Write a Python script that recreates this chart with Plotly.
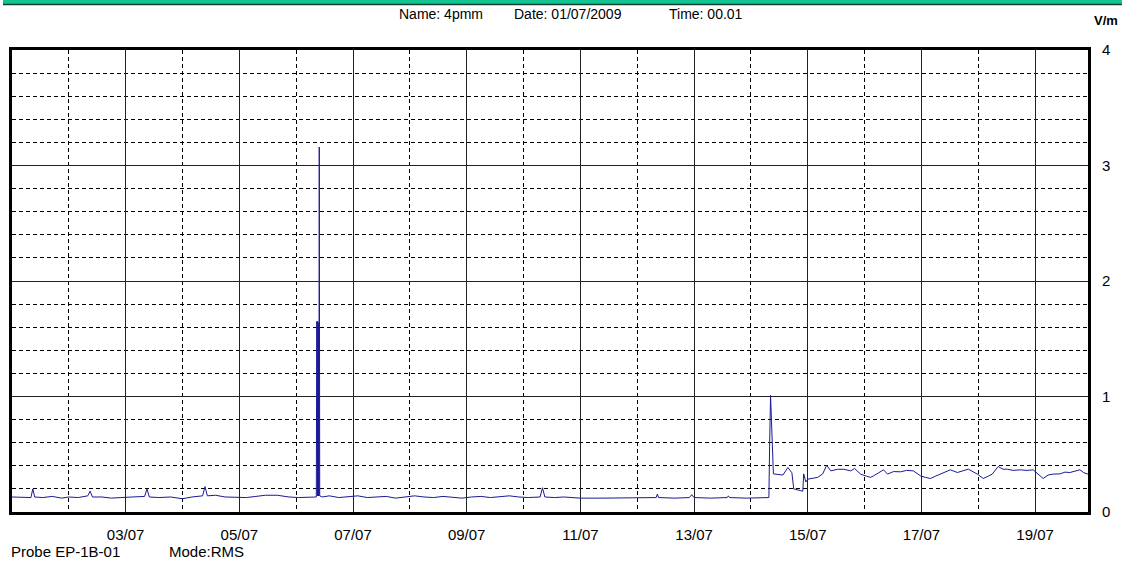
import plotly.graph_objects as go
import pandas as pd

# Hours since 01/07/2009 00:00 and measured field (V/m)
hours = [
    0, 4, 8, 8.8, 9.6, 13, 17, 21, 24, 28, 32, 33, 34, 38, 42, 46, 51, 56, 57, 58,
    62, 67, 72, 76, 80.5, 81.5, 82.5, 86, 90, 95, 99, 103, 107, 112, 117, 121, 125, 128.5,
    128.7, 128.8, 128.9, 129.0, 129.1, 129.2, 129.3, 129.4, 129.5, 129.6, 129.75, 129.95,
    131, 134, 138, 142, 146, 150, 154, 158, 162, 166, 170, 174, 178, 182, 186, 190, 194,
    198, 202, 206, 210, 214, 218, 223, 224, 225, 229, 233, 236, 240, 250, 260, 268, 272,
    272.5, 273, 280, 286, 287, 288, 295, 302, 302.5, 303, 310, 318, 319.6,
    319.9, 320.3, 320.7, 321.5,
    325.5, 327.6, 329.3, 330.1, 333.1, 333.9, 334.3, 335.2, 336, 338.1, 340.2, 342.3, 344,
    345.7, 348.6, 351.2, 354.1, 355.8, 358.3, 360.8, 362.5, 363.8, 365.9, 368, 369.7, 372.2,
    375.2, 377.7, 380.6, 383.6, 385.7, 387.8, 389.9, 392, 394.1, 396.2, 399.2, 401.3, 403.8,
    407.6, 410.1, 412.2, 413.9, 416.4, 418.5, 420.2, 422.7, 425.7, 428.6, 431.2, 433.3,
    435.4, 437.5, 439.6, 442.5, 444.6, 446.7, 448.8, 450.9, 452.6, 454.3,
]
values = [
    0.13, 0.13, 0.125, 0.20, 0.13, 0.125, 0.135, 0.12, 0.13, 0.125, 0.14, 0.18, 0.13, 0.13,
    0.12, 0.125, 0.13, 0.135, 0.20, 0.13, 0.125, 0.13, 0.115, 0.13, 0.14, 0.22, 0.14, 0.145,
    0.13, 0.13, 0.125, 0.135, 0.145, 0.145, 0.13, 0.125, 0.13, 0.13,
    1.65, 0.14, 1.64, 0.14, 1.65, 0.14, 1.65, 0.14, 1.64, 0.14, 3.16, 0.14,
    0.13, 0.14, 0.125, 0.13, 0.14, 0.125, 0.13, 0.135, 0.12, 0.13, 0.14, 0.13, 0.125, 0.135,
    0.13, 0.12, 0.13, 0.135, 0.125, 0.13, 0.14, 0.13, 0.125, 0.13, 0.21, 0.13, 0.125, 0.13,
    0.125, 0.12, 0.12, 0.12, 0.12, 0.125, 0.155, 0.125, 0.12, 0.125, 0.15, 0.125, 0.12,
    0.125, 0.14, 0.125, 0.12, 0.125, 0.125,
    0.57, 1.01, 0.78, 0.33,
    0.32, 0.385, 0.34, 0.20, 0.184, 0.18, 0.33, 0.26, 0.284, 0.29, 0.30, 0.33, 0.405,
    0.356, 0.37, 0.37, 0.356, 0.376, 0.328, 0.31, 0.30, 0.313, 0.34, 0.365, 0.328, 0.35,
    0.348, 0.36, 0.356, 0.313, 0.30, 0.29, 0.31, 0.328, 0.35, 0.365, 0.342, 0.355, 0.371,
    0.328, 0.29, 0.31, 0.328, 0.394, 0.37, 0.371, 0.36, 0.365, 0.36, 0.365, 0.33,
    0.29, 0.32, 0.328, 0.33, 0.345, 0.342, 0.355, 0.365, 0.34, 0.328,
]

start = pd.Timestamp("2009-07-01 00:00")
times = [start + pd.Timedelta(hours=h) for h in hours]

FONT = "Liberation Sans, Arial, sans-serif"

fig = go.Figure()
fig.add_trace(go.Scatter(
    x=times, y=values, mode="lines",
    line=dict(color="#1a1a96", width=1),
    hoverinfo="x+y", showlegend=False,
))

W, H = 1122, 562
ml, mr, mt, mb = 9, 34, 50, 50
pw, ph = W - ml - mr, H - mt - mb

def px(x):
    return (x - ml) / pw

def py(y):
    return (H - mb - y) / ph

fig.update_layout(
    width=W, height=H,
    margin=dict(l=ml, r=mr, t=mt, b=mb),
    paper_bgcolor="white", plot_bgcolor="white",
    font=dict(family=FONT, size=15, color="black"),
    xaxis=dict(
        type="date",
        range=["2009-07-01 00:01", "2009-07-19 22:20"],
        tickmode="linear", tick0="2009-07-03", dtick=2 * 86400000,
        tickformat="%d/%m",
        showgrid=True, gridcolor="#222222", gridwidth=1.2,
        minor=dict(dtick=86400000, tick0="2009-07-02", showgrid=True,
                   gridcolor="black", gridwidth=1, griddash="4px,3px"),
        showline=True, linecolor="black", linewidth=3, mirror=True,
        ticks="", ticklabelstandoff=7, zeroline=False,
        tickfont=dict(family=FONT, size=15),
    ),
    yaxis=dict(
        range=[0, 4], side="right",
        tickmode="linear", tick0=0, dtick=1,
        showgrid=True, gridcolor="#222222", gridwidth=1.2,
        minor=dict(dtick=0.2, showgrid=True, gridcolor="black", gridwidth=1,
                   griddash="4px,3px"),
        showline=True, linecolor="black", linewidth=3, mirror=True,
        ticks="", ticklabelstandoff=8, zeroline=False,
        tickfont=dict(family=FONT, size=15),
    ),
    shapes=[
        dict(type="rect", xref="paper", yref="paper", x0=px(0), x1=px(W),
             y0=py(0), y1=py(4), fillcolor="#12c392", line=dict(width=0), layer="above"),
        dict(type="line", xref="paper", yref="paper", x0=px(0), x1=px(W),
             y0=py(4.5), y1=py(4.5), line=dict(color="#104030", width=1.5), layer="above"),
    ],
    annotations=[
        dict(text="Name: 4pmm", xref="paper", yref="paper", x=px(395), y=py(14),
             xanchor="left", yanchor="middle", showarrow=False, font=dict(size=14)),
        dict(text="Date: 01/07/2009", xref="paper", yref="paper", x=px(510), y=py(14),
             xanchor="left", yanchor="middle", showarrow=False, font=dict(size=14)),
        dict(text="Time: 00.01", xref="paper", yref="paper", x=px(666), y=py(14),
             xanchor="left", yanchor="middle", showarrow=False, font=dict(size=14)),
        dict(text="<b>V/m</b>", xref="paper", yref="paper", x=px(1120), y=py(21),
             xanchor="right", yanchor="middle", showarrow=False, font=dict(size=13)),
        dict(text="Probe EP-1B-01", xref="paper", yref="paper", x=px(6), y=py(551),
             xanchor="left", yanchor="middle", showarrow=False, font=dict(size=15)),
        dict(text="Mode:RMS", xref="paper", yref="paper", x=px(164), y=py(551),
             xanchor="left", yanchor="middle", showarrow=False, font=dict(size=15)),
    ],
)

fig.write_html(
    "out.html",
    config={"displayModeBar": False},
    post_script="document.body.style.margin='0';document.body.style.overflow='hidden';",
)
